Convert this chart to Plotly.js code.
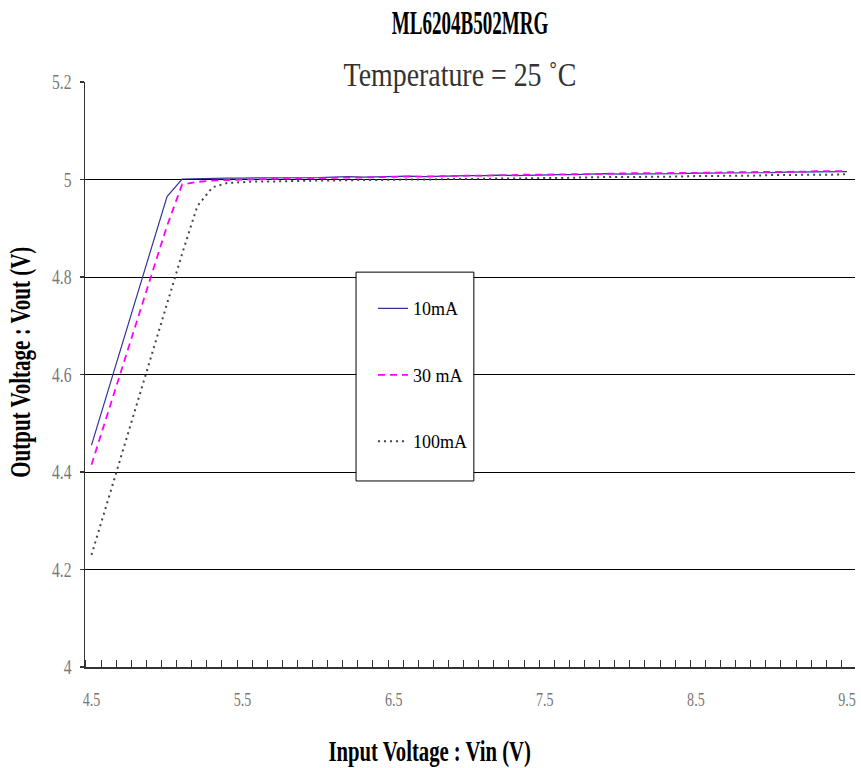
<!DOCTYPE html>
<html>
<head>
<meta charset="utf-8">
<script src="https://cdn.plot.ly/plotly-3.0.1.min.js"></script>
<style>html,body{margin:0;padding:0;background:#fff}#chart{width:861px;height:768px}</style>
</head>
<body>
<div id="chart"></div>
<script>
// ---- data ----
const vin = [4.5,4.6,4.7,4.8,4.9,5.0,5.1,5.2,5.3,5.4,5.5,5.6,5.7,5.8,5.9,6.0,6.1,6.2,6.3,6.4,6.5,6.6,6.7,6.8,6.9,7.0,7.1,7.2,7.3,7.4,7.5,7.6,7.7,7.8,7.9,8.0,8.1,8.2,8.3,8.4,8.5,8.6,8.7,8.8,8.9,9.0,9.1,9.2,9.3,9.4,9.5];
const vout10mA = [4.455,4.557,4.659,4.761,4.863,4.965,5.001,5.002,5.002,5.003,5.003,5.003,5.004,5.003,5.004,5.004,5.005,5.006,5.005,5.006,5.006,5.007,5.006,5.007,5.007,5.008,5.008,5.009,5.008,5.009,5.009,5.010,5.010,5.011,5.012,5.011,5.011,5.012,5.012,5.012,5.013,5.013,5.013,5.014,5.014,5.014,5.015,5.015,5.015,5.016,5.016];
const vout30mA = [4.415,4.513,4.611,4.709,4.807,4.905,4.990,4.995,4.998,4.999,5.000,5.001,5.001,5.002,5.002,5.003,5.003,5.004,5.004,5.005,5.005,5.006,5.006,5.007,5.007,5.008,5.008,5.009,5.009,5.010,5.010,5.011,5.011,5.011,5.012,5.012,5.013,5.013,5.013,5.014,5.014,5.014,5.015,5.015,5.015,5.016,5.016,5.016,5.017,5.017,5.017];
const vout100mA = [4.230,4.333,4.436,4.539,4.642,4.745,4.848,4.945,4.984,4.993,4.995,4.996,4.996,4.997,4.997,4.998,4.998,4.999,4.999,4.999,5.000,5.000,5.000,5.001,5.001,5.001,5.002,5.002,5.002,5.003,5.003,5.003,5.004,5.004,5.005,5.005,5.005,5.006,5.006,5.006,5.007,5.007,5.008,5.008,5.008,5.009,5.009,5.010,5.010,5.010,5.011];
const seriesNames = ['10mA', '30 mA', '100mA'];
const xTickVals = [4.5, 5.5, 6.5, 7.5, 8.5, 9.5];
const xTickText = ['4.5', '5.5', '6.5', '7.5', '8.5', '9.5'];
const yTickVals = [4, 4.2, 4.4, 4.6, 4.8, 5, 5.2];
const yTickText = ['4', '4.2', '4.4', '4.6', '4.8', '5', '5.2'];
const yGridVals = [4.2, 4.4, 4.6, 4.8, 5.0];
const chartTitle = 'ML6204B502MRG';
const chartSubtitle = 'Temperature = 25 \u02DAC';
const xTitle = 'Input Voltage : Vin (V)';
const yTitle = 'Output Voltage : Vout (V)';

const FONT = '"Liberation Serif", "Times New Roman", serif';

// 100mA sits on the grid axis (y), the others on the labelled overlay axis (y2); both share one range.
const traces = [
  {x: vin, y: vout10mA, name: seriesNames[0], legendgroup: 'a', mode: 'lines', yaxis: 'y2',
   line: {color: '#333399', width: 1.2}},
  {x: vin, y: vout30mA, name: seriesNames[1], legendgroup: 'b', mode: 'lines', yaxis: 'y2',
   line: {color: '#FF00FF', width: 1.8, dash: '7px,5px'}},
  {x: vin, y: vout100mA, name: seriesNames[2], legendgroup: 'c', mode: 'lines', yaxis: 'y',
   line: {color: '#444444', width: 2, dash: '2px,4px'}}
];

const layout = {
  width: 861, height: 768,
  margin: {l: 85, r: 6, t: 82, b: 101},
  paper_bgcolor: '#fff', plot_bgcolor: '#fff',
  font: {family: FONT, color: '#000'},
  showlegend: true,
  title: {text: chartTitle, font: {family: FONT, size: 34, color: '#000', weight: 'bold'},
          x: 0.5, xref: 'paper', xanchor: 'center', y: 0.971, yref: 'container', yanchor: 'middle'},
  xaxis: {
    range: [4.457, 9.553], tickmode: 'array', tickvals: xTickVals, ticktext: xTickText,
    ticks: '', showgrid: false, zeroline: false, ticklabeloverflow: 'allow',
    showline: true, linecolor: '#333', linewidth: 2,
    tickfont: {family: FONT, size: 18, color: '#777'}, ticklabelstandoff: 15,
    minor: {tickmode: 'linear', tick0: 4.563, dtick: 0.1, ticks: 'inside', ticklen: 7,
            tickwidth: 1, tickcolor: '#333', showgrid: false}
  },
  yaxis: {
    range: [4, 5.2], tickmode: 'array', tickvals: yGridVals, showticklabels: false, ticks: '',
    showgrid: true, gridcolor: '#000', gridwidth: 1, zeroline: false, showline: false
  },
  yaxis2: {
    overlaying: 'y', matches: 'y', anchor: 'x', side: 'left', range: [4, 5.2],
    tickmode: 'array', tickvals: yTickVals, ticktext: yTickText,
    ticks: 'outside', ticklen: 4, tickcolor: '#333', tickwidth: 1.5,
    showgrid: false, zeroline: false, showline: true, linecolor: '#333', linewidth: 1.5,
    tickfont: {family: FONT, size: 20, color: '#777'}, ticklabelstandoff: 4
  },
  legend: {
    x: 0.374, xanchor: 'left', y: 0.644, yanchor: 'top',
    bgcolor: 'rgba(0,0,0,0)', borderwidth: 0, tracegroupgap: 40,
    font: {family: FONT, size: 18, color: '#000'}
  },
  shapes: [{type: 'rect', xref: 'paper', yref: 'paper', x0: 0.352, x1: 0.505, y0: 0.318, y1: 0.675,
            line: {color: '#000', width: 1}, fillcolor: '#fff', layer: 'above'}],
  annotations: [
    {text: chartSubtitle, xref: 'paper', yref: 'paper', x: 0.487, y: 1.012,
     xanchor: 'center', yanchor: 'middle', showarrow: false,
     font: {family: FONT, size: 34, color: '#333'}},
    {text: xTitle, xref: 'paper', yref: 'paper', x: 0.448, y: -0.1436,
     xanchor: 'center', yanchor: 'middle', showarrow: false,
     font: {family: FONT, size: 30, color: '#000', weight: 'bold'}},
    {text: yTitle, xref: 'paper', yref: 'paper', x: -0.0844, y: 0.521, textangle: -90,
     xanchor: 'center', yanchor: 'middle', showarrow: false,
     font: {family: FONT, size: 30, color: '#000', weight: 'bold'}}
  ]
};

function condense(root, selector, ratio) {
  root.querySelectorAll(selector).forEach(function (el) {
    const w = el.getComputedTextLength();
    if (w > 0) {
      el.setAttribute('textLength', (w * ratio).toFixed(2));
      el.setAttribute('lengthAdjust', 'spacingAndGlyphs');
    }
  });
}

const gd = document.getElementById('chart');
Plotly.newPlot(gd, traces, layout, {staticPlot: true, displayModeBar: false}).then(function () {
  condense(gd, '.gtitle', 0.56);
  condense(gd, '.annotation[data-index="0"] .annotation-text', 0.82);
  condense(gd, '.annotation[data-index="1"] .annotation-text', 0.69);
  condense(gd, '.annotation[data-index="2"] .annotation-text', 0.70);
  condense(gd, '.xtick text', 0.78);
  condense(gd, '.y2tick text', 0.78);
});
</script>
</body>
</html>
